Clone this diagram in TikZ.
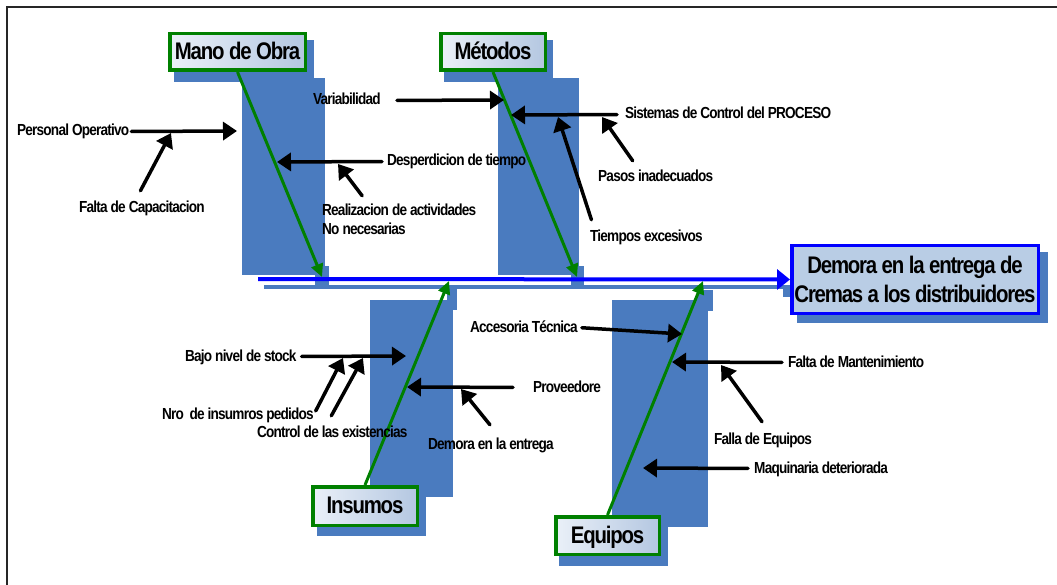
\documentclass[tikz,border=0pt]{standalone}
\usepackage{fontspec}
\setmainfont{Liberation Sans}[FakeStretch=0.85,LetterSpace=-5]
\usetikzlibrary{arrows.meta}
\definecolor{panel}{HTML}{4A7BBF}
\definecolor{bonegreen}{HTML}{008000}
\definecolor{spineblue}{HTML}{0000FF}
\definecolor{titlelight}{HTML}{EAF0F8}
\definecolor{titledark}{HTML}{B4C7E1}
\definecolor{effectfill}{HTML}{B9CDE5}
\begin{document}
\begin{tikzpicture}[x=1pt,y=-1pt,
  frame/.style={draw=black!85,line width=1.5pt},
  panelbox/.style={fill=panel,draw=none},
  lbl/.style={inner sep=0pt,text height=12pt,text depth=3pt,
    font=\fontsize{16}{19}\selectfont\bfseries},
  category/.style={draw=bonegreen,line width=3.5pt,left color=titlelight,
    right color=titledark,inner sep=0pt,text height=17pt,text depth=2pt,
    font=\fontsize{24}{28}\selectfont\bfseries},
  effect/.style={draw=spineblue,line width=3.5pt,fill=effectfill,inner sep=0pt,
    align=center,minimum width=246.5pt,minimum height=67.5pt,
    font=\fontsize{24}{29}\selectfont\bfseries},
  cause/.style={draw=black,line width=3.5pt,line cap=round,
    -{Triangle[length=14pt,width=18pt]}},
  bone/.style={draw=bonegreen,line width=3pt,
    -{Triangle[length=13pt,width=12pt]}},
  spine/.style={draw=spineblue,line width=4pt,
    -{Triangle[length=13pt,width=20pt]}}]
\useasboundingbox (0,0) rectangle (1057,585);
\draw[frame] (7,585) -- (7,7) -- (1057,7);

% backing panels and shadows
\fill[panelbox] (242,78) rectangle (325,275);
\fill[panelbox] (315,266) rectangle (329,287);
\fill[panelbox] (174,40) rectangle (314,82);
\fill[panelbox] (498,78) rectangle (579,275);
\fill[panelbox] (571,266) rectangle (584,287);
\fill[panelbox] (444,40) rectangle (553,82);
\fill[panelbox] (370,300) rectangle (453,497);
\fill[panelbox] (447,285) rectangle (457,310);
\fill[panelbox] (317,495) rectangle (426,536);
\fill[panelbox] (612,300) rectangle (708,527);
\fill[panelbox] (697,290) rectangle (713,311);
\fill[panelbox] (559,527) rectangle (668,566);
\fill[panelbox] (264,285) rectangle (790,289);
\fill[panelbox] (783,287) rectangle (797,297);
\fill[panelbox] (797,252) rectangle (1048,323);

% category boxes and effect
\node[category,minimum width=135.5pt,minimum height=36.5pt] (mo) at (237.5,52) {Mano de Obra};
\node[category,minimum width=104.5pt,minimum height=36.5pt] (me) at (493,52) {Métodos};
\node[category,minimum width=104.5pt,minimum height=38.5pt] (in) at (365,506) {Insumos};
\node[category,minimum width=103.5pt,minimum height=37.5pt] (eq) at (607.5,535.5) {Equipos};
\node[effect] (eff) at (915,279.5) {Demora en la entrega de\\Cremas a los distribuidores};

% spine
\coordinate (spine0) at (258,279);
\draw[spine] (spine0) -- (eff.west);

% main bones
\coordinate (moE) at (322,277);
\coordinate (meE) at (577,277);
\coordinate (inE) at (449,281);
\coordinate (eqE) at (703,281);
\draw[bone] (mo.south) -- (moE);
\draw[bone] (me.south) -- (meE);
\draw[bone] (in.north) -- (inE);
\draw[bone] (eq.north) -- (eqE);

% Mano de Obra causes
\node[lbl,anchor=base west] (po) at (17,136) {Personal Operativo};
\node[lbl,anchor=base west] (fc) at (79,213) {Falta de Capacitacion};
\node[lbl,anchor=base west] (dt) at (387,166) {Desperdicion de tiempo};
\node[lbl,anchor=base west] (ra1) at (322,216) {Realizacion de actividades};
\node[lbl,anchor=base west] (ra2) at (322,235) {No necesarias};
\coordinate (poT) at (237,131);
\coordinate (fcT) at (171,133);
\coordinate (dtT) at (277,162);
\coordinate (raT) at (338,164);
\draw[cause,shorten <=2pt] (po.east) -- (poT);
\draw[cause] ([xshift=-1.5pt,yshift=10pt]fc.north) -- (fcT);
\draw[cause,shorten <=5pt] (dt.west) -- (dtT);
\draw[cause] ([xshift=-37pt,yshift=8pt]ra1.north) -- (raT);

% Metodos causes
\node[lbl,anchor=base west] (va) at (313,105) {Variabilidad};
\node[lbl,anchor=base west] (sc) at (625,119) {Sistemas de Control del PROCESO};
\node[lbl,anchor=base west] (pi) at (598,182) {Pasos inadecuados};
\node[lbl,anchor=base west] (te) at (590,242) {Tiempos excesivos};
\coordinate (vaT) at (504,100);
\coordinate (scT) at (511,115);
\coordinate (piT) at (602,117);
\coordinate (teT) at (558,117);
\draw[cause,shorten <=16pt] (va.east) -- (vaT);
\draw[cause,shorten <=8pt] (sc.west) -- (scT);
\draw[cause] ([xshift=-23pt,yshift=9pt]pi.north) -- (piT);
\draw[cause] ([xshift=-55pt,yshift=10pt]te.north) -- (teT);

% Insumos causes
\node[lbl,anchor=base west] (bs) at (185,361) {Bajo nivel de stock};
\node[lbl,anchor=base west] (nr) at (162,419) {Nro\, de insumros pedidos};
\node[lbl,anchor=base west] (ce) at (257,437) {Control de las existencias};
\node[lbl,anchor=base west] (pv) at (533,392) {Proveedore};
\node[lbl,anchor=base west] (de) at (428,449) {Demora en la entrega};
\coordinate (bsT) at (406,356);
\coordinate (nrT) at (343,358);
\coordinate (ceT) at (363,358);
\coordinate (pvT) at (407,387);
\coordinate (deT) at (461,389);
\draw[cause,shorten <=5pt] (bs.east) -- (bsT);
\draw[cause,shorten <=4pt] (nr.east) -- (nrT);
\draw[cause] ([xshift=-1pt,yshift=9pt]ce.north) -- (ceT);
\draw[cause,shorten <=20pt] (pv.west) -- (pvT);
\draw[cause] ([xshift=-1pt,yshift=12pt]de.north) -- (deT);

% Equipos causes
\node[lbl,anchor=base west] (at) at (470,332) {Accesoria Técnica};
\node[lbl,anchor=base west] (fm) at (788,367) {Falta de Mantenimiento};
\node[lbl,anchor=base west] (fe) at (714,444) {Falla de Equipos};
\node[lbl,anchor=base west] (md) at (754,473) {Maquinaria deteriorada};
\coordinate (atT) at (682,334);
\coordinate (fmT) at (672,362);
\coordinate (feT) at (721,365);
\coordinate (mdT) at (643,468);
\draw[cause,shorten <=4pt] (at.east) -- (atT);
\draw[cause,shorten <=6pt] (fm.west) -- (fmT);
\draw[cause] ([xshift=-1pt,yshift=10pt]fe.north) -- (feT);
\draw[cause,shorten <=6pt] (md.west) -- (mdT);
\end{tikzpicture}
\end{document}
